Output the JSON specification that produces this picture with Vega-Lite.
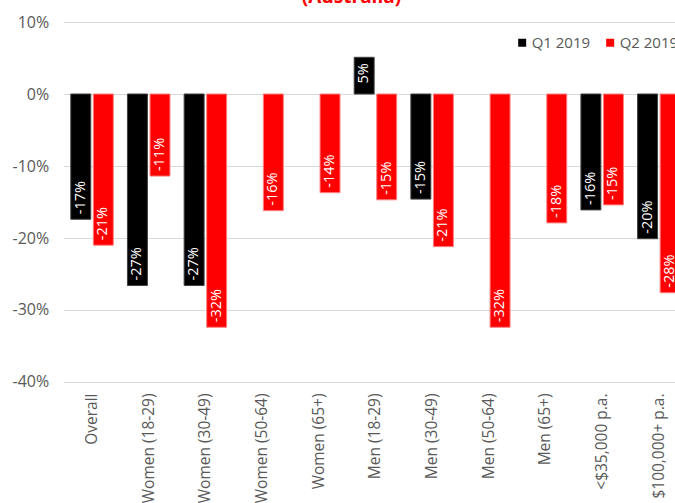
{
  "$schema": "https://vega.github.io/schema/vega-lite/v6.json",
  "width": 623.5,
  "height": 360,
  "autosize": {"type": "none"},
  "padding": {"left": 63.7, "top": 22, "right": 0, "bottom": 121},
  "background": "white",
  "title": {"text": "(Australia)", "color": "#ff0000", "fontSize": 19, "fontWeight": "bold", "font": "Open Sans", "baseline": "alphabetic", "offset": 5, "dx": -24, "dy": 13, "anchor": "middle"},
  "config": {
    "view": {"stroke": null},
    "font": "Open Sans",
    "locale": {"number": {"decimal": ".", "thousands": ",", "grouping": [3], "currency": ["$", ""], "minus": "-"}}
  },
  "data": {"values": [
    {"category": "Overall", "series": "Q1 2019", "value": -0.174},
    {"category": "Overall", "series": "Q2 2019", "value": -0.210},
    {"category": "Women (18-29)", "series": "Q1 2019", "value": -0.266},
    {"category": "Women (18-29)", "series": "Q2 2019", "value": -0.114},
    {"category": "Women (30-49)", "series": "Q1 2019", "value": -0.266},
    {"category": "Women (30-49)", "series": "Q2 2019", "value": -0.324},
    {"category": "Women (50-64)", "series": "Q2 2019", "value": -0.162},
    {"category": "Women (65+)", "series": "Q2 2019", "value": -0.137},
    {"category": "Men (18-29)", "series": "Q1 2019", "value": 0.051},
    {"category": "Men (18-29)", "series": "Q2 2019", "value": -0.147},
    {"category": "Men (30-49)", "series": "Q1 2019", "value": -0.146},
    {"category": "Men (30-49)", "series": "Q2 2019", "value": -0.212},
    {"category": "Men (50-64)", "series": "Q2 2019", "value": -0.324},
    {"category": "Men (65+)", "series": "Q2 2019", "value": -0.179},
    {"category": "<$35,000 p.a.", "series": "Q1 2019", "value": -0.161},
    {"category": "<$35,000 p.a.", "series": "Q2 2019", "value": -0.154},
    {"category": "$100,000+ p.a.", "series": "Q1 2019", "value": -0.201},
    {"category": "$100,000+ p.a.", "series": "Q2 2019", "value": -0.276}
  ]},
  "encoding": {
    "x": {
      "field": "category", "type": "nominal",
      "sort": ["Overall", "Women (18-29)", "Women (30-49)", "Women (50-64)", "Women (65+)", "Men (18-29)", "Men (30-49)", "Men (50-64)", "Men (65+)", "<$35,000 p.a.", "$100,000+ p.a."],
      "scale": {"paddingInner": 0.25, "paddingOuter": 0.125},
      "axis": {"title": null, "labelAngle": -90, "domain": false, "ticks": false, "grid": false, "labelPadding": 11, "labelFontSize": 15.5, "labelColor": "#595959", "labelFont": "Open Sans", "labelLimit": 0}
    },
    "xOffset": {"field": "series", "type": "nominal", "sort": ["Q1 2019", "Q2 2019"], "scale": {"paddingInner": 0.115, "paddingOuter": 0}},
    "y": {
      "field": "value", "type": "quantitative",
      "scale": {"domain": [-0.4, 0.1], "nice": false},
      "axis": {"title": null, "format": ".0%", "values": [-0.4, -0.3, -0.2, -0.1, 0, 0.1], "domain": false, "ticks": false, "labelPadding": 15, "labelFontSize": 16, "labelColor": "#595959", "labelFont": "Open Sans", "gridColor": "#d9d9d9", "gridWidth": 1}
    }
  },
  "layer": [
    {
      "mark": {"type": "bar", "strokeWidth": 1},
      "encoding": {
        "color": {
          "field": "series", "type": "nominal",
          "scale": {"domain": ["Q1 2019", "Q2 2019"], "range": ["#000000", "#ff0000"]},
          "legend": {"orient": "none", "legendX": 451, "legendY": 13, "direction": "horizontal", "title": null, "symbolType": "square", "symbolSize": 64, "symbolStrokeWidth": 0, "labelFontSize": 15, "labelColor": "#595959", "labelFont": "Open Sans", "columnPadding": 12, "labelOffset": 2}
        },
        "stroke": {
          "field": "series", "type": "nominal",
          "scale": {"domain": ["Q1 2019", "Q2 2019"], "range": ["#404040", "#ff8080"]},
          "legend": null
        }
      }
    },
    {
      "transform": [{"filter": "datum.value < 0"}],
      "mark": {"type": "text", "angle": 270, "align": "left", "baseline": "middle", "dx": 5, "color": "white", "fontSize": 14.5, "font": "Open Sans"},
      "encoding": {"text": {"field": "value", "type": "quantitative", "format": ".0%"}}
    },
    {
      "transform": [{"filter": "datum.value >= 0"}],
      "mark": {"type": "text", "angle": 270, "align": "right", "baseline": "middle", "dx": -6, "color": "white", "fontSize": 14.5, "font": "Open Sans"},
      "encoding": {"text": {"field": "value", "type": "quantitative", "format": ".0%"}}
    }
  ]
}
